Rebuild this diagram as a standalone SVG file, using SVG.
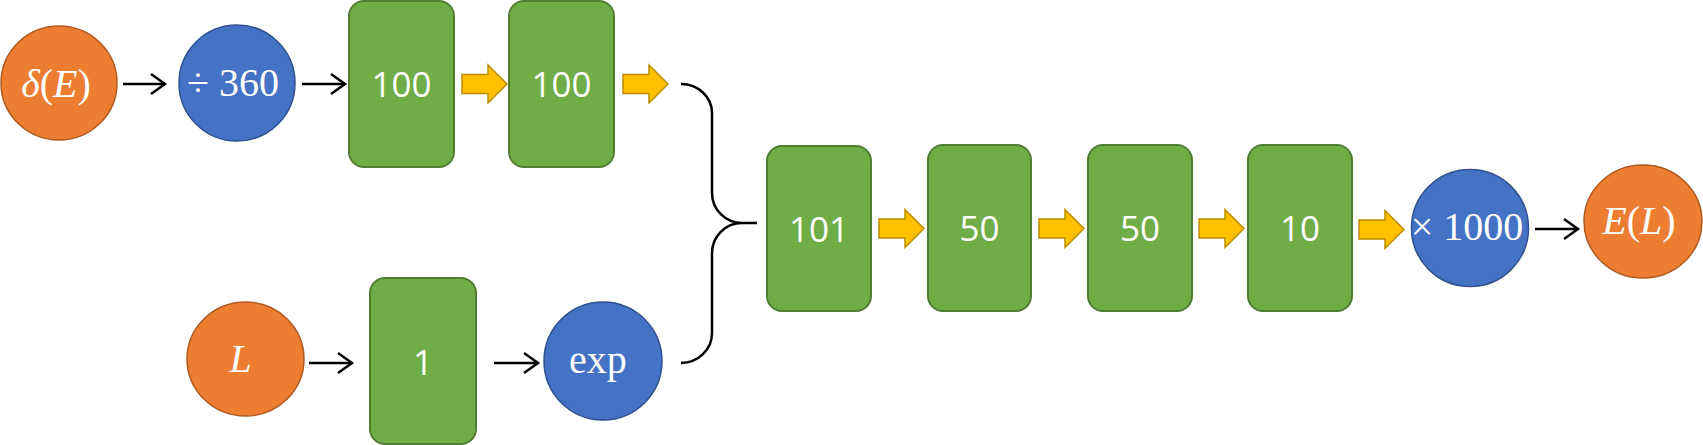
<svg xmlns="http://www.w3.org/2000/svg" width="1703" height="445" viewBox="0 0 1703 445">
<style>
.org{fill:#ED7D31;stroke:#AE5A21;stroke-width:1.5}
.blu{fill:#4472C4;stroke:#2F528F;stroke-width:1.5}
.grn{fill:#70AD47;stroke:#507E32;stroke-width:2}
.num{font-family:"Open Sans",sans-serif;font-size:35px;fill:#fff;text-anchor:middle}
.mth{font-family:"Liberation Serif",serif;font-size:40px;fill:#fff;text-anchor:middle}
.it{font-style:italic}
.ya{fill:#FFC000;stroke:#BC8C00;stroke-width:1.5}
.bl{stroke:#000;stroke-width:2.5;fill:none}
</style>
<defs>
<path id="yarrow" d="M0,-9.5 H26 V-19 L45,0 L26,19 V9.5 H0 Z"/>
<marker id="chev" markerUnits="userSpaceOnUse" markerWidth="20" markerHeight="24" refX="16" refY="12" orient="auto" viewBox="0 0 20 24">
<path d="M2,2 L16,12 L2,22" fill="none" stroke="#000" stroke-width="2.5"/>
</marker>
</defs>
<g id="n-deltaE"><ellipse class="org" cx="59" cy="83" rx="58" ry="57"/><text class="mth" x="56" y="97"><tspan class="it">δ</tspan>(<tspan class="it">E</tspan>)</text></g>
<g id="n-div360"><circle class="blu" cx="237" cy="83" r="58"/><text class="mth" x="233" y="96">÷ 360</text></g>
<g id="n-100a"><rect class="grn" x="349" y="1" width="105" height="166" rx="15"/><text class="num" x="401.5" y="97">100</text></g>
<g id="n-100b"><rect class="grn" x="509" y="1" width="105" height="166" rx="15"/><text class="num" x="561.5" y="97">100</text></g>
<g id="n-L"><ellipse class="org" cx="245.5" cy="359" rx="58.5" ry="57"/><text class="mth it" x="240.5" y="372">L</text></g>
<g id="n-1"><rect class="grn" x="370" y="278" width="106" height="166" rx="15"/><text class="num" x="423" y="375">1</text></g>
<g id="n-exp"><circle class="blu" cx="603" cy="361" r="59"/><text class="mth" x="598" y="373">exp</text></g>
<g id="n-101"><rect class="grn" x="767" y="146" width="104" height="165" rx="15"/><text class="num" x="819" y="242">101</text></g>
<g id="n-50a"><rect class="grn" x="928" y="145" width="103" height="166" rx="15"/><text class="num" x="979.5" y="241">50</text></g>
<g id="n-50b"><rect class="grn" x="1088" y="145" width="104" height="166" rx="15"/><text class="num" x="1140" y="241">50</text></g>
<g id="n-10"><rect class="grn" x="1248" y="145" width="104" height="166" rx="15"/><text class="num" x="1300" y="241">10</text></g>
<g id="n-x1000"><circle class="blu" cx="1470" cy="228" r="58.5"/><text class="mth" x="1467" y="240">× 1000</text></g>
<g id="n-EL"><ellipse class="org" cx="1643" cy="221.5" rx="59" ry="56.5"/><text class="mth" x="1639" y="234"><tspan class="it">E</tspan>(<tspan class="it">L</tspan>)</text></g>
<g id="connectors">
<line class="bl" x1="123" y1="84" x2="165" y2="84" marker-end="url(#chev)"/>
<line class="bl" x1="302" y1="84" x2="345" y2="84" marker-end="url(#chev)"/>
<line class="bl" x1="309" y1="363" x2="352" y2="363" marker-end="url(#chev)"/>
<line class="bl" x1="494" y1="363" x2="538" y2="363" marker-end="url(#chev)"/>
<line class="bl" x1="1535" y1="229" x2="1578" y2="229" marker-end="url(#chev)"/>
<use href="#yarrow" class="ya" x="462" y="84"/>
<use href="#yarrow" class="ya" x="623" y="84"/>
<use href="#yarrow" class="ya" x="879" y="228.5"/>
<use href="#yarrow" class="ya" x="1039" y="228.5"/>
<use href="#yarrow" class="ya" x="1199" y="228.5"/>
<use href="#yarrow" class="ya" x="1359" y="229.5"/>
<path class="bl" stroke-width="3" d="M681,84 A31,29 0 0 1 712,113 V193 A30,30 0 0 0 742,223 H757 M742,223 A30,30 0 0 0 712,253 V333 A31,30 0 0 1 681,363"/>
</g>
</svg>
